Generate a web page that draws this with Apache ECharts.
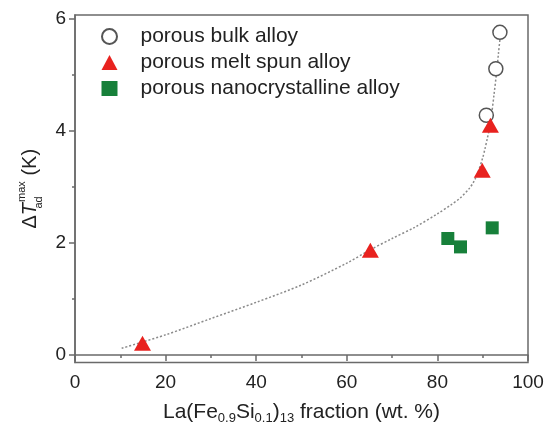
<!DOCTYPE html>
<html><head><meta charset="utf-8">
<script src="https://cdn.jsdelivr.net/npm/echarts@6/dist/echarts.min.js"></script>
<style>html,body{margin:0;padding:0;background:#fff}#c{width:544px;height:422px}</style>
</head><body><div id="c"></div>
<script>
const seriesNames = ['porous bulk alloy', 'porous melt spun alloy', 'porous nanocrystalline alloy'];
const bulkX = [90.8, 92.9, 93.8];
const bulkY = [4.28, 5.11, 5.76];
const meltX = [14.9, 65.2, 89.9, 91.7];
const meltY = [0.21, 1.87, 3.30, 4.10];
const nanoX = [82.3, 85.1, 92.1];
const nanoY = [2.08, 1.93, 2.27];
const fitX = [10.3, 20, 30, 40, 50, 60, 65, 70, 75, 80, 83, 85, 87, 88, 89, 90, 90.5, 91, 91.5, 92, 92.5, 93, 93.5, 94];
const fitY = [0.12, 0.36, 0.65, 0.94, 1.25, 1.64, 1.87, 2.08, 2.28, 2.52, 2.68, 2.8, 2.97, 3.09, 3.27, 3.52, 3.68, 3.86, 4.05, 4.32, 4.65, 5.0, 5.4, 5.78];
const xTicks = [0, 20, 40, 60, 80, 100];
const yTicks = [0, 2, 4, 6];
const yMinorTicks = [1, 3, 5];

const zip = (a, b) => a.map((v, i) => [v, b[i]]);
const FONT = '"Liberation Sans", Arial, Helvetica, sans-serif';
const TXT = '#222';
const AX = '#6a6a6a';

const chart = echarts.init(document.getElementById('c'), null, {renderer: 'canvas'});
chart.setOption({
  animation: false,
  backgroundColor: '#fff',
  textStyle: {fontFamily: FONT},
  grid: {left: 75, right: 16, top: 15, bottom: 59.5, containLabel: false, outerBoundsMode: 'none',
    show: true, borderColor: AX, borderWidth: 1.5, backgroundColor: 'transparent'},
  legend: {
    orient: 'vertical', left: 101, top: 26, padding: 0, itemGap: 5,
    itemWidth: 16, itemHeight: 15,
    textStyle: {fontSize: 21, color: TXT, fontFamily: FONT, padding: [0, 0, 0, 18]},
    data: seriesNames
  },
  xAxis: {
    type: 'value', min: 0, max: 100, interval: 20,
    name: 'La(Fe{s|0.9}Si{s|0.1}){s|13} fraction (wt. %)',
    nameLocation: 'middle', nameGap: 37,
    nameTextStyle: {fontSize: 21, color: TXT, fontFamily: FONT, verticalAlign: 'top',
      rich: {s: {fontSize: 13, color: TXT, fontFamily: FONT, padding: [12, 0, 0, 0]}}},
    axisLine: {show: true, lineStyle: {color: AX, width: 1.5}},
    axisTick: {show: true, inside: false, length: 6, lineStyle: {color: AX, width: 1.5}},
    minorTick: {show: true, splitNumber: 2, length: 3, lineStyle: {color: AX, width: 1.5}},
    axisLabel: {fontSize: 19, color: TXT, margin: 11, fontFamily: FONT, customValues: xTicks},
    splitLine: {show: false}, minorSplitLine: {show: false}
  },
  yAxis: [{
    type: 'value', min: -0.134, max: 6.07,
    name: '{d|Δ}{t|T}{sb|ad}{sp|max}{k| (K)}',
    nameLocation: 'middle', nameGap: 29, nameRotate: 90,
    nameTextStyle: {fontSize: 20, color: TXT, fontFamily: FONT,
      rich: {
        d: {fontSize: 20, color: TXT, fontFamily: FONT, lineHeight: 28},
        t: {fontSize: 20, color: TXT, fontFamily: FONT, fontStyle: 'italic', lineHeight: 28},
        sb: {fontSize: 11, color: TXT, fontFamily: FONT, verticalAlign: 'bottom', lineHeight: 14, width: 1, align: 'left'},
        sp: {fontSize: 11, color: TXT, fontFamily: FONT, verticalAlign: 'top', lineHeight: 14},
        k: {fontSize: 20, color: TXT, fontFamily: FONT, lineHeight: 28}
      }},
    axisLine: {show: true, lineStyle: {color: AX, width: 1.5}},
    axisTick: {show: true, inside: false, length: 6, customValues: yTicks, lineStyle: {color: AX, width: 1.5}},
    axisLabel: {fontSize: 19, color: TXT, margin: 9, fontFamily: FONT, customValues: yTicks},
    splitLine: {show: false}
  }, {
    type: 'value', min: -0.134, max: 6.07, position: 'left',
    axisLine: {show: false},
    axisTick: {show: true, inside: false, length: 3, customValues: yMinorTicks, lineStyle: {color: AX, width: 1.5}},
    axisLabel: {show: false},
    splitLine: {show: false}
  }],
  series: [
    {
      name: 'fit', type: 'line', data: zip(fitX, fitY), smooth: 0.3, symbol: 'none', silent: true,
      lineStyle: {color: '#8a8a8a', width: 1.5, type: [2, 2]}, z: 1
    },
    {
      name: seriesNames[0], type: 'scatter', data: zip(bulkX, bulkY), symbol: 'circle', symbolSize: 14,
      itemStyle: {color: '#fff', borderColor: '#555', borderWidth: 1.5, opacity: 1}, z: 3
    },
    {
      name: seriesNames[1], type: 'scatter', data: zip(meltX, meltY), symbol: 'triangle', symbolSize: [17, 15],
      itemStyle: {color: '#e8221f', opacity: 1}, z: 4
    },
    {
      name: seriesNames[2], type: 'scatter', data: zip(nanoX, nanoY), symbol: 'rect', symbolSize: 13,
      itemStyle: {color: '#17803a', opacity: 1}, z: 4
    }
  ]
});
</script>
</body></html>
